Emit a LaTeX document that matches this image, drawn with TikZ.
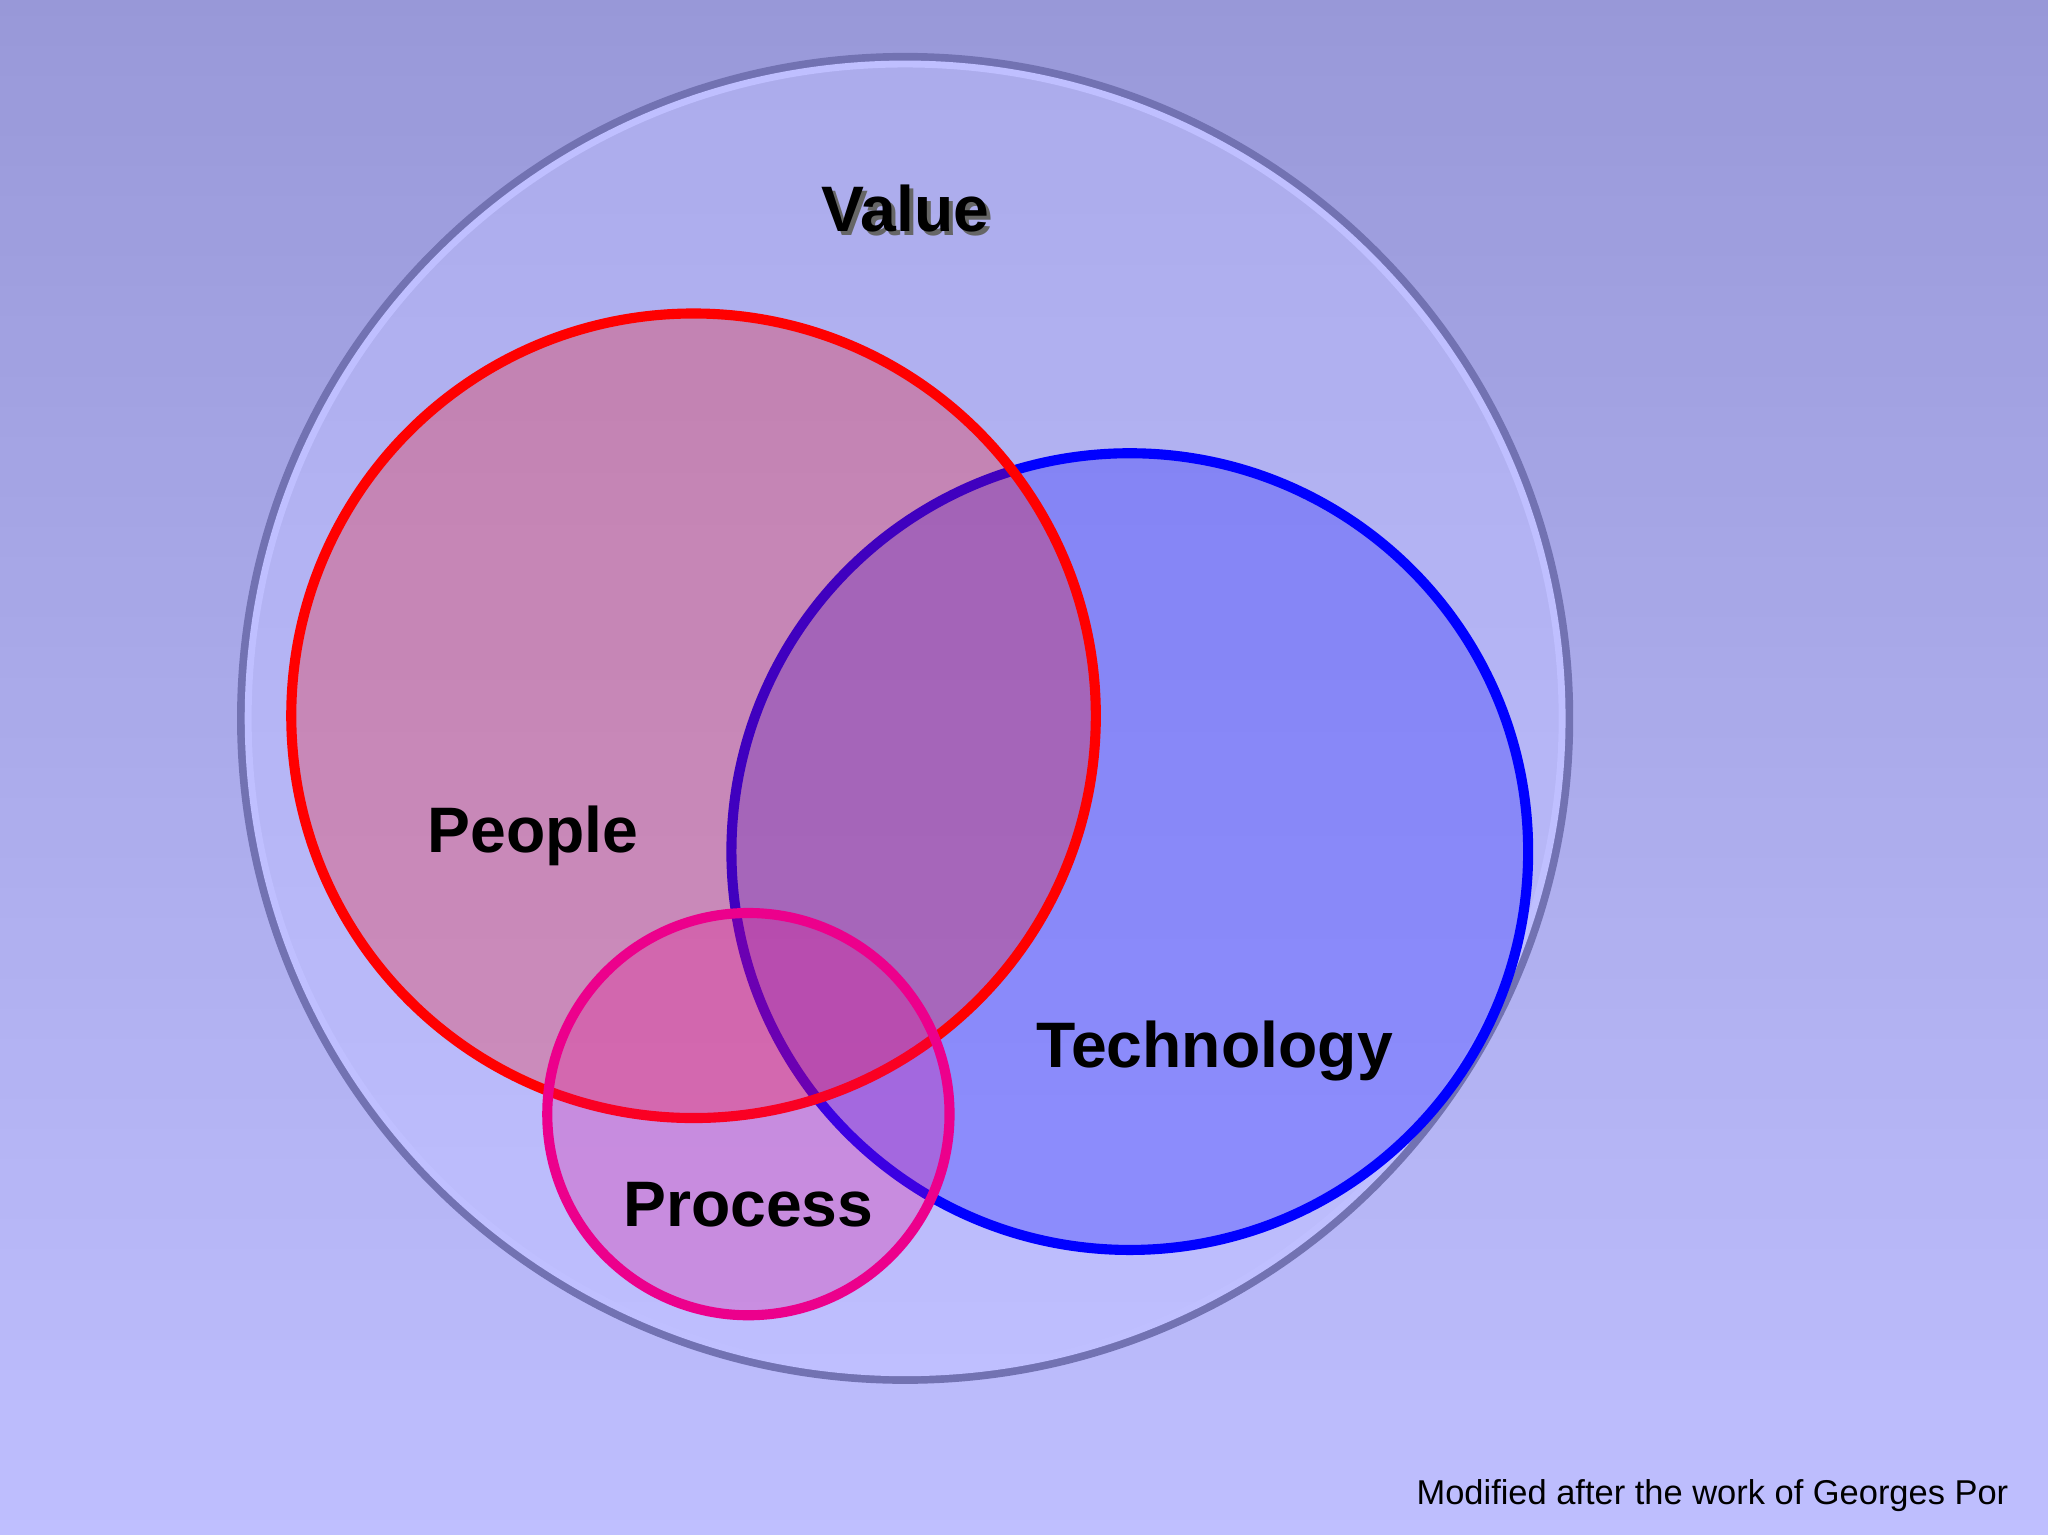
\documentclass[tikz,border=0pt]{standalone}
\usepackage{fontspec}
\setmainfont{Liberation Sans}
\begin{document}
\begin{tikzpicture}[x=0.01cm,y=-0.01cm,
  lbl/.style={font=\fontsize{14}{16}\selectfont\bfseries, text=black},
  ring/.style={line width=2.2pt}]
\useasboundingbox (0,0) rectangle (1568,1175);
\shade[top color=black!20, bottom color=white] (0,0) rectangle (1568,1175);
\node[circle, minimum size=0pt, inner sep=0pt] (val) at (693,550) {};
\shade[top color=black!10, bottom color=white, draw=black!40, line width=2pt]
  (693,550) ellipse [x radius=508, y radius=506];
\draw[white, line width=1.5pt] (693,550) ellipse [x radius=503, y radius=501];
\node[circle, draw=blue, ring, fill=blue, fill opacity=0.25, minimum size=610\pgflinewidth, inner sep=0pt, text opacity=1] (tech) at (865,652) {};
\draw[blue, ring, fill=blue, fill opacity=0.25] (865,652) circle [radius=305];
\draw[red, ring, fill=red, fill opacity=0.25] (531,548) circle [radius=308];
\draw[magenta, ring, fill=magenta, fill opacity=0.25] (573,853) circle [radius=154];
\node[lbl, text=black!60] at (696,163) {Value};
\node[lbl] (v) at (693,160) {Value};
\node[lbl] (p) at (408,640) {People};
\node[lbl] (t) at (930,805) {Technology};
\node[lbl] (pr) at (573,922) {Process};
\node[anchor=east, font=\fontsize{7.5}{9}\selectfont] (foot) at (1550,1145) {Modified after the work of Georges Por};
\end{tikzpicture}
\end{document}
